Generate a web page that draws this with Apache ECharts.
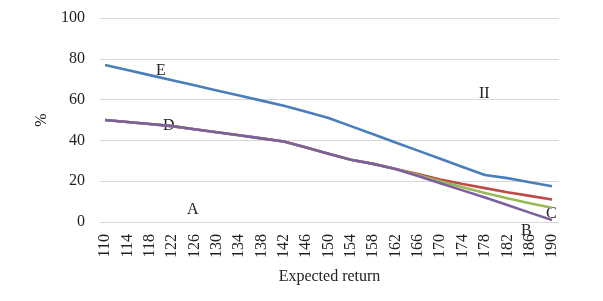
<!DOCTYPE html>
<html><head><meta charset="utf-8">
<script src="https://cdn.jsdelivr.net/npm/echarts@6/dist/echarts.min.js"></script>
<style>html,body{margin:0;padding:0;background:#fff}#c{width:603px;height:301px}</style>
</head><body><div id="c"></div>
<script>
const categories = [110,114,118,122,126,130,134,138,142,146,150,154,158,162,166,170,174,178,182,186,190];
const seriesE = [77,74.5,72,69.5,67,64.5,62,59.5,57,54,51,47,43,39,35,31,27,23,21.5,19.5,17.5];
const seriesRed = [50,49,48,47,45.5,44,42.5,41,39.5,36.5,33.5,30.5,28.5,26,23.5,20.8,18.6,16.6,14.6,12.8,11];
const seriesGreen = [50,49,48,47,45.5,44,42.5,41,39.5,36.5,33.5,30.5,28.5,26,23,20,17,14.2,11.6,9.2,7];
const seriesD = [50,49,48,47,45.5,44,42.5,41,39.5,36.5,33.5,30.5,28.5,26,22.5,19,15.5,12,8.3,4.6,1];
const yTicks = [0,20,40,60,80,100];
const font = '"Liberation Serif", "Times New Roman", serif';
const pair = arr => categories.map((c,i)=>[c,arr[i]]);
const mk = (name,data,color,z) => ({name,type:'line',data:pair(data),showSymbol:false,smooth:false,z,
  lineStyle:{color,width:2.6},itemStyle:{color}});
const chart = echarts.init(document.getElementById('c'));
chart.setOption({
  animation:false,
  grid:{left:100,right:44,top:18,bottom:79},
  xAxis:{type:'value',min:109.1,max:191.25,name:'Expected return',nameLocation:'middle',nameGap:47,
    nameTextStyle:{fontFamily:font,fontSize:16,color:'#222'},
    axisLine:{show:false},axisTick:{show:false},splitLine:{show:false},
    axisLabel:{customValues:categories,rotate:90,fontFamily:font,fontSize:16,color:'#222',margin:12}},
  yAxis:{type:'value',min:0,max:100,interval:20,name:'%',nameLocation:'middle',nameGap:42,
    nameTextStyle:{fontFamily:font,fontSize:16,color:'#222'},
    axisLine:{show:false},axisTick:{show:false},
    axisLabel:{fontFamily:font,fontSize:16,color:'#222',margin:15},
    splitLine:{lineStyle:{color:'#d9d9d9',width:1}}},
  series:[
    mk('E',seriesE,'#4a7ebb',2),
    mk('Red',seriesRed,'#be4b48',3),
    mk('Green',seriesGreen,'#98b954',4),
    mk('D',seriesD,'#7d5fa0',5)
  ],
  graphic:[
    {type:'text',left:156,top:63,style:{text:'E',font:'16px '+font,fill:'#222'}},
    {type:'text',left:163,top:118,style:{text:'D',font:'16px '+font,fill:'#222'}},
    {type:'text',left:187,top:202,style:{text:'A',font:'16px '+font,fill:'#222'}},
    {type:'text',left:479,top:86,style:{text:'II',font:'16px '+font,fill:'#222'}},
    {type:'text',left:521,top:223,style:{text:'B',font:'16px '+font,fill:'#222'}},
    {type:'text',left:546,top:206,style:{text:'C',font:'16px '+font,fill:'#222'}}
  ]
});
</script></body></html>
